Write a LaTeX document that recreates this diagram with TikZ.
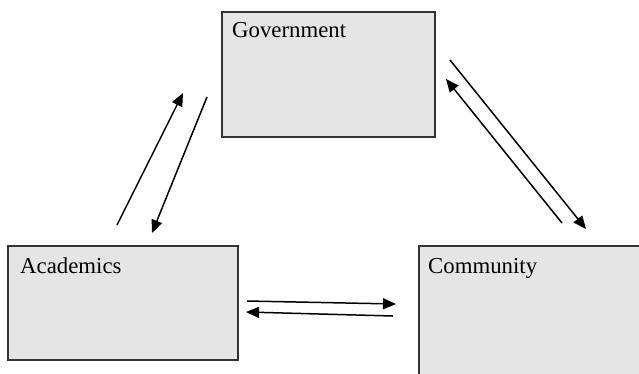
\documentclass[tikz,border=0pt]{standalone}
\usepackage{fontspec}
\setmainfont{Liberation Serif}
\usetikzlibrary{arrows.meta}
\begin{document}
\begin{tikzpicture}[x=1pt,y=-1pt,
  box/.style={draw=black!80,line width=1.6pt,fill=black!10},
  lbl/.style={anchor=base west,inner sep=0pt,font=\fontsize{22.8}{26}\selectfont},
  arr/.style={line width=1.5pt,-{Triangle[length=13pt,width=11pt]}}]
\useasboundingbox (0,0) rectangle (639,373);
\begin{scope}
\clip (0,0) rectangle (639,373);
\node[box,minimum width=213pt,minimum height=125pt,anchor=north west,inner sep=0pt] (gov) at (221,11) {};
\node[box,minimum width=230pt,minimum height=114pt,anchor=north west,inner sep=0pt] (aca) at (7,245) {};
\node[box,minimum width=240pt,minimum height=140pt,anchor=north west,inner sep=0pt] (com) at (418,245) {};
\end{scope}
\node[lbl] (govt) at (232,37) {Government};
\node[lbl] (acat) at (20,273) {Academics};
\node[lbl] (comt) at (428,273) {Community};
% left pair
\coordinate (a1s) at (117,225); \coordinate (a1e) at (183,93);
\coordinate (a2s) at (207,97);  \coordinate (a2e) at (152,233);
% right pair
\coordinate (b1s) at (450,60);  \coordinate (b1e) at (586,229);
\coordinate (b2s) at (562,223); \coordinate (b2e) at (446,79);
% bottom pair
\coordinate (c1s) at (247,301); \coordinate (c1e) at (396,304);
\coordinate (c2s) at (393,316); \coordinate (c2e) at (246,312);
\draw[arr] (a1s) -- (a1e);
\draw[arr] (a2s) -- (a2e);
\draw[arr] (b1s) -- (b1e);
\draw[arr] (b2s) -- (b2e);
\draw[arr] (c1s) -- (c1e);
\draw[arr] (c2s) -- (c2e);
\end{tikzpicture}
\end{document}
